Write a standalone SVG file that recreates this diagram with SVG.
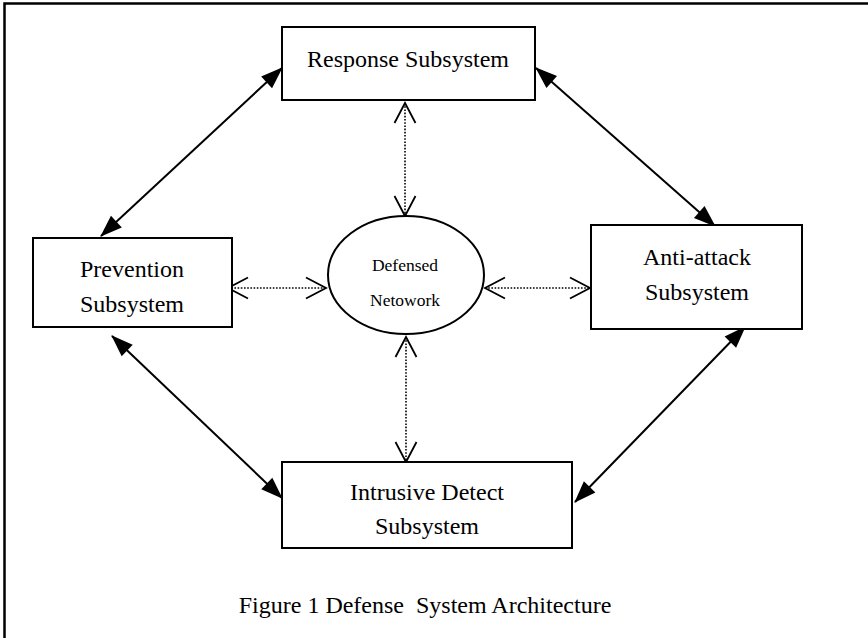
<svg xmlns="http://www.w3.org/2000/svg" width="868" height="638" viewBox="0 0 868 638">
  <style>
    .box { fill: #fff; stroke: #000; stroke-width: 2; }
    .lbl { font-family: "Liberation Serif", "Times New Roman", serif; font-size: 24px; fill: #000; text-anchor: middle; }
    .small { font-size: 17.5px; }
    .solid { stroke: #000; stroke-width: 2; fill: none; marker-start: url(#head); marker-end: url(#head); }
    .dotted { stroke: #000; stroke-width: 1.6; stroke-dasharray: 1.6 1.6; fill: none; marker-start: url(#vee); marker-end: url(#vee); }
  </style>
  <defs>
    <marker id="head" markerUnits="userSpaceOnUse" markerWidth="22" markerHeight="16" refX="21" refY="8" orient="auto-start-reverse" overflow="visible">
      <path d="M0,0 L22,8 L0,16 Z" fill="#000" stroke="none"/>
    </marker>
    <marker id="vee" markerUnits="userSpaceOnUse" markerWidth="22" markerHeight="22" refX="21" refY="11" orient="auto-start-reverse" overflow="visible">
      <path d="M1,0.5 L21,11 L1,21.5" fill="none" stroke="#000" stroke-width="1.8" stroke-dasharray="none"/>
    </marker>
  </defs>

  <rect width="868" height="638" fill="#fff"/>
  <!-- frame -->
  <path d="M4.5,638 V3.5 H868" fill="none" stroke="#000" stroke-width="2.5"/>

  <g id="connectors">
    <line class="solid" x1="282" y1="68" x2="101" y2="236"/>
    <line class="solid" x1="536" y1="68" x2="715" y2="226"/>
    <line class="solid" x1="112" y1="336" x2="282" y2="498"/>
    <line class="solid" x1="745" y1="327" x2="575" y2="502"/>
    <line class="dotted" x1="405" y1="103" x2="405" y2="216"/>
    <line class="dotted" x1="406" y1="337" x2="406" y2="462"/>
    <line class="dotted" x1="228" y1="288" x2="326" y2="288"/>
    <line class="dotted" x1="485" y1="288" x2="590" y2="288"/>
  </g>

  <g id="response">
    <rect class="box" x="282" y="27" width="253" height="73"/>
    <text class="lbl" x="408" y="67">Response Subsystem</text>
  </g>

  <g id="prevention">
    <rect class="box" x="33" y="238" width="199" height="89"/>
    <text class="lbl" x="132" y="277">Prevention</text>
    <text class="lbl" x="132" y="312">Subsystem</text>
  </g>

  <g id="network">
    <ellipse cx="406" cy="275" rx="78" ry="59" fill="#fff" stroke="#000" stroke-width="2"/>
    <text class="lbl small" x="405" y="271">Defensed</text>
    <text class="lbl small" x="405" y="306">Netowork</text>
  </g>

  <g id="antiattack">
    <rect class="box" x="591" y="225" width="211" height="104"/>
    <text class="lbl" x="697" y="265">Anti-attack</text>
    <text class="lbl" x="697" y="300">Subsystem</text>
  </g>

  <g id="intrusive">
    <rect class="box" x="282" y="462" width="290" height="86"/>
    <text class="lbl" x="427" y="500">Intrusive Detect</text>
    <text class="lbl" x="427" y="534">Subsystem</text>
  </g>

  <text class="lbl" x="425" y="613" xml:space="preserve">Figure 1 Defense  System Architecture</text>
</svg>
